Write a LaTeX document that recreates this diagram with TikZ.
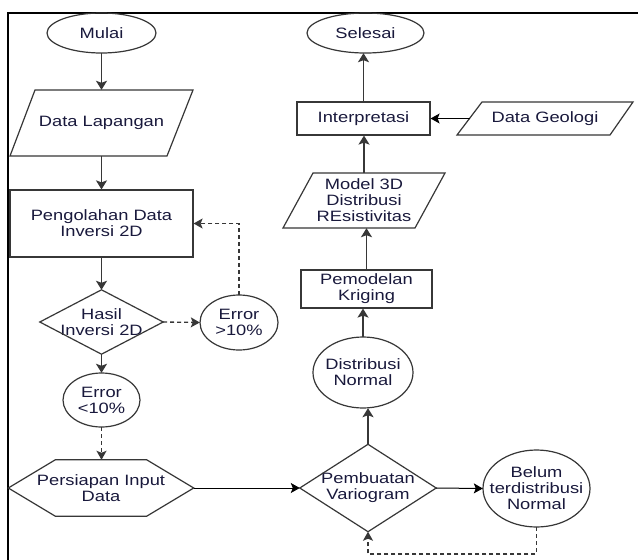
\documentclass[tikz,border=0pt]{standalone}
\usepackage{fontspec}
\setmainfont{Liberation Sans}[FakeStretch=1.22]
\usetikzlibrary{arrows.meta,calc}
\definecolor{ln}{RGB}{55,55,55}
\definecolor{tx}{RGB}{25,25,60}
\begin{document}
\begin{tikzpicture}[x=1pt,y=-1pt,
  shp/.style={draw=ln,line width=1.2pt,line join=miter},
  lbl/.style 2 args={rectangle,inner sep=0pt,minimum width=#1pt,minimum height=#2pt,
    align=center,font=\fontsize{15}{16}\selectfont,text=tx},
  arr/.style={draw=ln,line width=1.5pt,-{Stealth[length=9pt,width=11pt,inset=2pt]}},
  thin/.style={draw=black,line width=1pt,-{Stealth[length=9pt,width=10pt,inset=2pt]}},
  dsh/.style={draw=ln,line width=1.3pt,dash pattern=on 4pt off 3pt,-{Stealth[length=9pt,width=10pt,inset=2pt]}}]
\useasboundingbox (0,0) rectangle (638,560);
\fill[white] (0,0) rectangle (638,560);
% frame
\draw[line width=2pt,black] (638,12.5) -- (7.5,12.5) -- (7.5,560);

% left column
\node[lbl={109}{40}] (mulai) at (101.5,33) {Mulai};
\draw[shp] (mulai.center) ellipse [x radius=54.5pt,y radius=20pt];

\node[lbl={158}{66}] (dl) at (101.5,123) {Data Lapangan};
\draw[shp] (35,90) -- (193,90) -- (167,156) -- (10,156) -- cycle;

\node[lbl={183}{67},shp] (pd) at (101.5,223.5) {Pengolahan Data\\Inversi 2D};

\node[lbl={123}{64}] (hasil) at (101.5,322) {Hasil\\Inversi 2D};
\draw[shp] (hasil.north) -- (hasil.east) -- (hasil.south) -- (hasil.west) -- cycle;

\node[lbl={78}{55}] (e1) at (239,322.5) {Error\\>10\%};
\draw[shp] (e1.center) ellipse [x radius=39pt,y radius=27.5pt];

\node[lbl={77}{54}] (e2) at (101.5,400) {Error\\<10\%};
\draw[shp] (e2.center) ellipse [x radius=38.5pt,y radius=27pt];

\node[lbl={185}{56}] (hex) at (101,488) {Persiapan Input\\Data};
\draw[shp] (hex.west) -- ($(hex.north west)+(47,0)$) -- ($(hex.north east)+(-47,0)$)
  -- (hex.east) -- ($(hex.south east)+(-47,0)$) -- ($(hex.south west)+(47,0)$) -- cycle;

% right column
\node[lbl={136}{87}] (pv) at (368,488) {Pembuatan\\Variogram};
\draw[shp] (pv.north) -- (pv.east) -- (pv.south) -- (pv.west) -- cycle;

\node[lbl={107}{77}] (belum) at (536.5,488.5) {Belum\\terdistribusi\\Normal};
\draw[shp] (belum.center) ellipse [x radius=53.5pt,y radius=38.5pt];

\node[lbl={100}{71}] (dn) at (363,372.5) {Distribusi\\Normal};
\draw[shp] (dn.center) ellipse [x radius=50pt,y radius=35.5pt];

\node[lbl={131}{38},shp] (pk) at (366.5,289) {Pemodelan\\Kriging};

\node[lbl={132}{55}] (m3) at (364,200.5) {Model 3D\\Distribusi\\REsistivitas};
\draw[shp] (313,173) -- (445,173) -- (415,228) -- (283,228) -- cycle;

\node[lbl={133}{33},shp] (interp) at (363.5,118.5) {Interpretasi};

\node[lbl={151}{33}] (dg) at (545,118.5) {Data Geologi};
\draw[shp] (482,102) -- (633,102) -- (610,135) -- (457,135) -- cycle;
\coordinate (dgl) at (470,118.5);

\node[lbl={117}{40}] (selesai) at (365.5,33) {Selesai};
\draw[shp] (selesai.center) ellipse [x radius=58.5pt,y radius=20pt];

\coordinate (lp) at (536.5,554);

% connectors
\draw[arr] (mulai.south) -- (dl.north);
\draw[arr] (dl.south) -- (pd.north);
\draw[arr] (pd.south) -- (hasil.north);
\draw[dsh] (hasil.east) -- (e1.west);
\draw[dsh] (e1.north) |- (pd.east);
\draw[arr] (hasil.south) -- (e2.north);
\draw[dsh] (e2.south) -- (hex.north -| e2.south);
\draw[thin] (hex.east) -- (pv.west);
\draw[thin] (pv.east) -- (belum.west);
\draw[dsh] (belum.south) -- (lp) -| (pv.south);
\draw[arr] (pv.north) -- (pv.north |- dn.south);
\draw[arr] (dn.north) -- (dn.north |- pk.south);
\draw[arr] (pk.north) -- (pk.north |- m3.south);
\draw[arr] (m3.north) -- (m3.north |- interp.south);
\draw[thin] (dgl) -- (interp.east);
\draw[arr] (interp.north) -- (interp.north |- selesai.south);
\end{tikzpicture}
\end{document}
